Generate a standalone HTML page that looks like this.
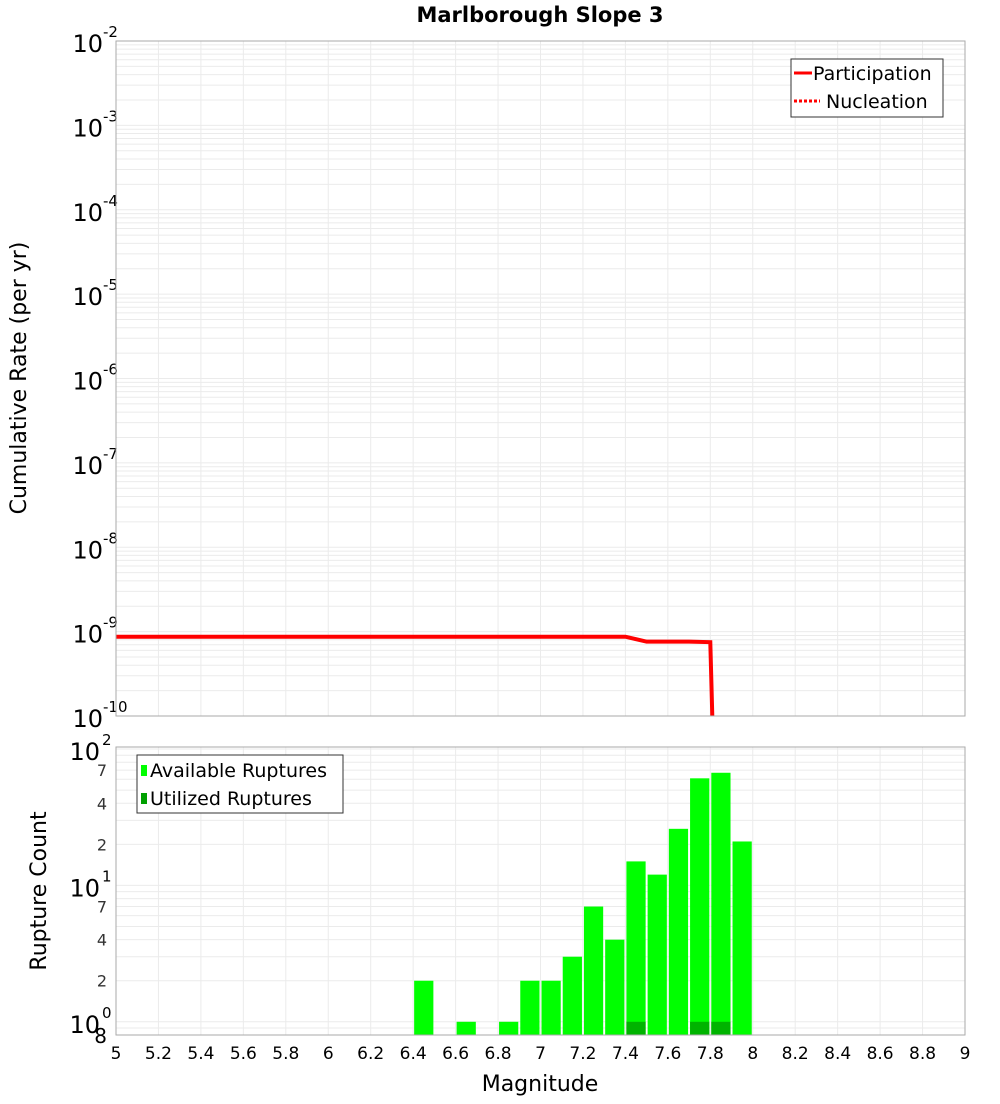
<!DOCTYPE html>
<html><head><meta charset="utf-8"><style>
body{margin:0;background:#fff;font-family:"DejaVu Sans","Liberation Sans",sans-serif}
</style></head><body>
<svg id="c" width="1000" height="1100" xmlns="http://www.w3.org/2000/svg" font-family="DejaVu Sans, Liberation Sans, sans-serif">
<text x="540" y="22" text-anchor="middle" font-size="21" font-weight="bold">Marlborough Slope 3</text>
<text transform="translate(26,378) rotate(-90)" text-anchor="middle" font-size="22">Cumulative Rate (per yr)</text>
<text transform="translate(46,891) rotate(-90)" text-anchor="middle" font-size="22">Rupture Count</text>
<text x="540" y="1091" text-anchor="middle" font-size="22">Magnitude</text>
<g id="topg"></g><g id="botg"></g>
</svg>
<script>
const rateMags=[5,5.1,5.2,5.3,5.4,5.5,5.6,5.7,5.8,5.9,6,6.1,6.2,6.3,6.4,6.5,6.6,6.7,6.8,6.9,7,7.1,7.2,7.3,7.4,7.5,7.6,7.7,7.8,7.81];
const rateVals=[8.7e-10,8.7e-10,8.7e-10,8.7e-10,8.7e-10,8.7e-10,8.7e-10,8.7e-10,8.7e-10,8.7e-10,8.7e-10,8.7e-10,8.7e-10,8.7e-10,8.7e-10,8.7e-10,8.7e-10,8.7e-10,8.7e-10,8.7e-10,8.7e-10,8.7e-10,8.7e-10,8.7e-10,8.7e-10,7.6e-10,7.6e-10,7.6e-10,7.5e-10,1e-11];
const barMags=[6.45,6.65,6.85,6.95,7.05,7.15,7.25,7.35,7.45,7.55,7.65,7.75,7.85,7.95];
const availCounts=[2,1,1,2,2,3,7,4,15,12,26,61,67,21];
const usedMags=[7.45,7.75,7.85];
const usedCounts=[1,1,1];
const xTicks=[5,5.2,5.4,5.6,5.8,6,6.2,6.4,6.6,6.8,7,7.2,7.4,7.6,7.8,8,8.2,8.4,8.6,8.8,9];
const NS="http://www.w3.org/2000/svg";
const L=116,R=965;
const T1=41,B1=716,T2=747,B2=1035;
const X=m=>L+(m-5)/4*(R-L);
const Y1=v=>B1-(Math.log10(v)+10)/8*(B1-T1);
const lo2=Math.log10(0.8),hi2=2.015;
const Y2=v=>B2-(Math.log10(v)-lo2)/(hi2-lo2)*(B2-T2);
function el(p,t,a,txt){const e=document.createElementNS(NS,t);for(const k in a)e.setAttribute(k,a[k]);if(txt!=null)e.textContent=txt;p.appendChild(e);return e;}
const gTop=document.getElementById('topg'),gBot=document.getElementById('botg');
function grid(g,T,B,Y,decs,name){
  const gg=el(g,'g',{});
  
  
  xTicks.forEach(m=>el(gg,'line',{x1:X(m),x2:X(m),y1:T,y2:B,stroke:'#ebebeb'}));
  decs.forEach(d=>{for(let k=1;k<10;k++){const v=k*Math.pow(10,d);const y=Y(v);if(y>=T-0.5&&y<=B+0.5)el(gg,'line',{x1:L,x2:R,y1:y,y2:y,stroke:'#ebebeb'});}});
}
grid(gTop,T1,B1,Y1,[-10,-9,-8,-7,-6,-5,-4,-3,-2],'top-grid');
grid(gBot,T2,B2,Y2,[-1,0,1,2],'bottom-grid');
for(let d=-10;d<=-2;d++){const y=Y1(Math.pow(10,d));
  const t=el(gTop,'text',{x:103,y:y+11,'text-anchor':'end','font-size':24});
  
  
  t.textContent='10';
  el(gTop,'text',{x:103,y:y-4,'font-size':15},String(d));}
[0,1,2].forEach(d=>{const y=Y2(Math.pow(10,d));
  const t=el(gBot,'text',{x:100,y:y+11,'text-anchor':'end','font-size':24},'10');
  
  
  el(gBot,'text',{x:102,y:y-4,'font-size':15},String(d));});
[[0.8,'8'],[2,'2'],[4,'4'],[7,'7'],[20,'2'],[40,'4'],[70,'7']].forEach(([v,s])=>{
  const t=el(gBot,'text',{x:107,y:Y2(v)+(v==0.8?8:6),'text-anchor':'end','font-size':v==0.8?20:16,fill:v==0.8?'#000':'#333'},s);
  
  });
xTicks.forEach(m=>{const t=el(gBot,'text',{x:X(m),y:1059,'text-anchor':'middle','font-size':17},String(m));
  
  });
const pts=rateMags.map((m,i)=>X(m)+','+Math.min(B1+5,Y1(rateVals[i]))).join(' ');
const clip=el(gTop,'clipPath',{id:'cp1'});el(clip,'rect',{x:L,y:T1,width:R-L,height:B1-T1});
const pl=el(gTop,'polyline',{points:pts,fill:'none',stroke:'#ff0000','stroke-width':4,'clip-path':'url(#cp1)'});


const bw=(X(0.1)-X(0))-2;
barMags.forEach((m,i)=>{const y=Y2(availCounts[i]);
  const r=el(gBot,'rect',{x:X(m)-bw/2,y:y,width:bw,height:B2-y,fill:'#00ff00'});
  
  });
usedMags.forEach((m,i)=>{const y=Y2(usedCounts[i]);
  const r=el(gBot,'rect',{x:X(m)-bw/2,y:y,width:bw,height:B2-y,fill:'#00b400'});
  
  });
const f1=el(gTop,'rect',{x:L,y:T1,width:R-L,height:B1-T1,fill:'none',stroke:'#aaa'});


const f2=el(gBot,'rect',{x:L,y:T2,width:R-L,height:B2-T2,fill:'none',stroke:'#aaa'});


const lg1=el(gTop,'g',{});


el(lg1,'rect',{x:791,y:59,width:152,height:58,fill:'#fff',stroke:'#333'});
el(lg1,'line',{x1:794,x2:812,y1:73,y2:73,stroke:'#f00','stroke-width':3});
el(lg1,'text',{x:813,y:80,'font-size':19},'Participation');
el(lg1,'line',{x1:794,x2:820,y1:101,y2:101,stroke:'#f00','stroke-width':3,'stroke-dasharray':'3,2'});
el(lg1,'text',{x:826,y:108,'font-size':19},'Nucleation');
const lg2=el(gBot,'g',{});


el(lg2,'rect',{x:137,y:755,width:206,height:58,fill:'#fff',stroke:'#333'});
el(lg2,'rect',{x:141,y:765,width:6,height:11,fill:'#00ff00'});
el(lg2,'text',{x:150,y:777,'font-size':19},'Available Ruptures');
el(lg2,'rect',{x:141,y:793,width:6,height:11,fill:'#00a000'});
el(lg2,'text',{x:150,y:805,'font-size':19},'Utilized Ruptures');
</script>
</body></html>
